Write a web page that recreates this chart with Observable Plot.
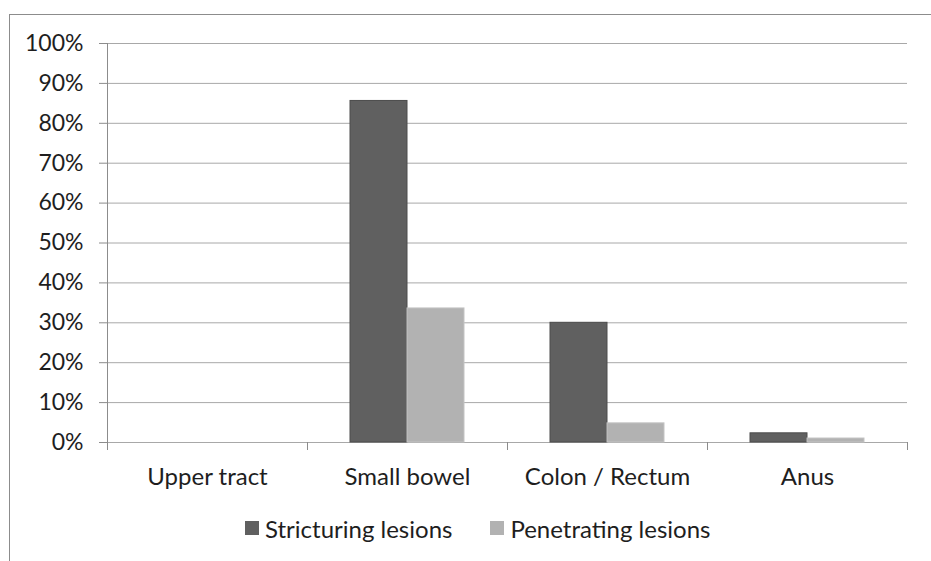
<!DOCTYPE html>
<html>
<head>
<meta charset="utf-8">
<script src="https://cdn.jsdelivr.net/npm/d3@7"></script>
<script src="https://cdn.jsdelivr.net/npm/@observablehq/plot@0.6"></script>
<style>
  html, body { margin: 0; padding: 0; background: #fff; }
  #wrap { position: relative; width: 931px; height: 561px; overflow: hidden; font-family: Lato, "Open Sans", sans-serif; }
  #frame { position: absolute; left: 9px; top: 14px; width: 2000px; height: 2000px;
           border-left: 1px solid #8c8c8c; border-top: 1px solid #8c8c8c; z-index: 2; pointer-events: none; }
  #legend { display: flex; align-items: center; margin-left: 245px; height: 40px; margin-top: 3px;
            font-size: 24px; color: #1e1e1e; }
  .sw { width: 14px; height: 14px; margin-right: 6px; }
  .item { display: flex; align-items: center; margin-right: 38px; }
</style>
</head>
<body>
<div id="wrap">
  <div id="frame"></div>
  <div id="chart"></div>
  <div id="legend"></div>
</div>
<script>
// ---- data ----
const categories = ["Upper tract", "Small bowel", "Colon / Rectum", "Anus"];
const stricturing = [0, 85.6, 30.0, 2.3];
const penetrating = [0, 33.6, 4.8, 1.0];
const seriesNames = ["Stricturing lesions", "Penetrating lesions"];
const seriesColors = ["#606060", "#b2b2b2"];
const yTicks = [0, 10, 20, 30, 40, 50, 60, 70, 80, 90, 100];

// table built from arrays
const rows = categories.flatMap((c, i) => [
  {cat: c, i, s: 0, series: seriesNames[0], value: stricturing[i]},
  {cat: c, i, s: 1, series: seriesNames[1], value: penetrating[i]}
]).filter(d => d.value > 0);

const gray = "#8c8c8c";
const chart = Plot.plot({
  width: 931,
  height: 505,
  marginLeft: 107,
  marginRight: 24,
  marginTop: 43,
  marginBottom: 63,
  style: {fontFamily: "Lato, 'Open Sans', sans-serif", fontSize: "24px", color: "#1e1e1e", background: "transparent"},
  x: {type: "linear", domain: [0, categories.length], label: null},
  y: {domain: [0, 100], label: null},
  color: {domain: seriesNames, range: seriesColors},
  marks: [
    Plot.ruleY(yTicks, {y: d => d, x1: 0, x2: categories.length, stroke: "#a8a8a8", strokeWidth: 1}),
    Plot.rectY(rows, {
      x1: d => d.i + (d.s === 0 ? 0.215 : 0.5),
      x2: d => d.i + (d.s === 0 ? 0.5 : 0.785),
      y1: 0,
      y2: "value",
      fill: "series",
      stroke: d => d.s === 0 ? "#4c4c4c" : "#c4c4c4",
      strokeWidth: 1
    }),
    Plot.ruleX([0], {y1: 0, y2: 100, stroke: gray}),
    Plot.axisY({ticks: yTicks, tickSize: 8, tickPadding: 16, tickFormat: d => d + "%", stroke: gray, fill: "#1e1e1e", fontSize: 23, label: null}),
    Plot.axisX({ticks: d3.range(categories.length + 1), tickSize: 8, tickFormat: () => "", stroke: gray, label: null}),
    Plot.axisX({ticks: categories.map((c, i) => i + 0.5), tickSize: 0, tickPadding: 25,
                tickFormat: d => categories[Math.floor(d)], fill: "#1e1e1e", label: null})
  ]
});
document.getElementById("chart").appendChild(chart);

// legend
const lg = document.getElementById("legend");
seriesNames.forEach((n, k) => {
  const it = document.createElement("div");
  it.className = "item";
  const sw = document.createElement("div");
  sw.className = "sw";
  sw.style.background = seriesColors[k];
  const t = document.createElement("span");
  t.textContent = n;
  it.appendChild(sw); it.appendChild(t);
  lg.appendChild(it);
});
</script>
</body>
</html>
